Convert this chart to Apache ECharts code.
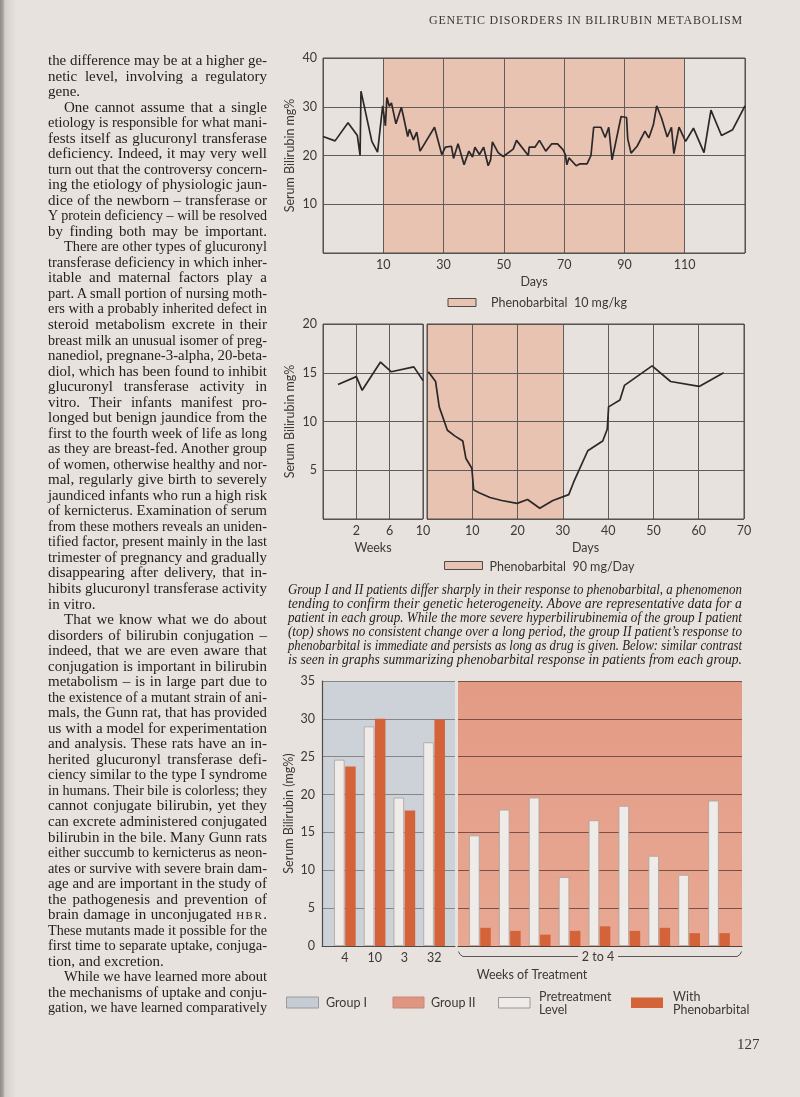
<!DOCTYPE html>
<html><head><meta charset="utf-8">
<script src="https://cdn.jsdelivr.net/npm/echarts@6/dist/echarts.min.js"></script>
<style>
html,body{margin:0;padding:0;background:#e7e2dd;}
#page{position:relative;width:800px;height:1097px;overflow:hidden;background:#e7e2dd;}
#chart{position:absolute;left:0;top:0;width:800px;height:1097px;}
.ln{position:absolute;white-space:nowrap;font-family:"Liberation Serif","DejaVu Serif",serif;color:#24211f;}
</style></head>
<body><div id="page"><div id="chart"></div><div id="txt"></div></div>
<script>
// ---------- DATA ----------
// Top chart (Group I patient), phenobarbital 10 mg/kg
const topDays = [-10,-6,-1.7,1.4,2.3,2.6,6.2,8.1,9.8,10.7,11.2,12,12.7,13.3,14.2,16,16.8,18.1,18.7,20,21.1,22.2,27,29.4,30.6,32.6,33.3,34.8,36.8,38.4,39.6,40.4,41.9,43.3,44.8,45.6,46.2,48.1,49.8,53.1,54.2,58.1,58.4,60.3,61.8,63.9,65.9,67.8,69.6,70.4,70.9,71.6,74,75.3,77.6,78.9,79.8,82.2,83.6,84.8,85.9,88.9,90.7,91.1,92.2,94.2,96.8,98.1,99.6,100.7,102.3,104.2,105.6,106.4,108.1,110.3,112.9,116.4,118.7,122.2,125.9,130];
const topValues = [23.9,23.0,26.7,24.1,20.0,33.2,22.9,20.7,30.2,26.1,31.9,30.1,30.8,31.0,26.5,29.9,27.7,23.9,25.4,23.2,24.8,20.9,25.8,20.2,21.7,21.9,19.4,22.4,18.1,20.9,19.7,21.7,20.2,21.7,17.9,19.1,22.8,20.6,19.8,21.3,23.1,20.0,21.7,21.7,23.1,20.9,22.4,22.4,21.2,20.2,18.1,19.5,17.9,18.3,18.3,20.0,25.8,25.8,23.7,25.8,19.1,28.0,27.8,23.4,20.5,21.9,25.0,23.6,26.3,30.2,27.7,23.8,25.8,20.4,25.8,22.9,25.6,20.6,29.3,24.1,25.3,30.2];
const phenoTop = [10, 110];

// Middle chart (Group II patient), phenobarbital 90 mg/Day
const midWeeks = [-0.2, 2, 2.7, 4.9, 6.2, 8.9, 10];
const midWeekValues = [13.8, 14.6, 13.2, 16.1, 15.1, 15.6, 14.2];
const midDays = [0.3,1.9,2.7,4.5,6.2,7.9,8.6,9.9,10.3,11.5,13.9,16.5,19.9,22.2,24.9,27.8,31.3,32.4,35.5,38.8,39.8,40.1,42.6,43.6,49.7,53.8,60.1,65.5];
const midDayValues = [15.1,14.1,11.5,9.1,8.5,8.0,6.2,5.2,3.0,2.7,2.2,1.9,1.6,2.0,1.1,1.9,2.5,3.8,7.0,8.0,9.2,11.5,12.2,13.7,15.7,14.1,13.6,15.0];
const phenoMid = [0, 30];

// Bottom chart: summary
const groupICats = ['4', '10', '3', '32'];
const groupIPre = [24.6, 29.0, 19.6, 26.9];
const groupIPheno = [23.7, 30.0, 17.9, 29.9];
const groupIICats = ['II-1','II-2','II-3','II-4','II-5','II-6','II-7','II-8','II-9'];
const groupIIPre = [14.6, 18.0, 19.6, 9.1, 16.6, 18.5, 11.9, 9.4, 19.2];
const groupIIPheno = [2.4, 2.0, 1.5, 2.0, 2.6, 2.0, 2.4, 1.7, 1.7];
const groupIILabel = '2 to 4';

// ---------- TEXT ----------
const header = 'GENETIC DISORDERS IN BILIRUBIN METABOLISM';
// flags: i = indented, n = not justified (paragraph end)
const bodyLines = [
 ['','the difference may be at a higher ge-'],
 ['','netic level, involving a regulatory'],
 ['n','gene.'],
 ['i','One cannot assume that a single'],
 ['','etiology is responsible for what mani-'],
 ['','fests itself as glucuronyl transferase'],
 ['','deficiency. Indeed, it may very well'],
 ['','turn out that the controversy concern-'],
 ['','ing the etiology of physiologic jaun-'],
 ['','dice of the newborn – transferase or'],
 ['','Y protein deficiency – will be resolved'],
 ['','by finding both may be important.'],
 ['i','There are other types of glucuronyl'],
 ['','transferase deficiency in which inher-'],
 ['','itable and maternal factors play a'],
 ['','part. A small portion of nursing moth-'],
 ['','ers with a probably inherited defect in'],
 ['','steroid metabolism excrete in their'],
 ['','breast milk an unusual isomer of preg-'],
 ['','nanediol, pregnane-3-alpha, 20-beta-'],
 ['','diol, which has been found to inhibit'],
 ['','glucuronyl transferase activity in'],
 ['','vitro. Their infants manifest pro-'],
 ['','longed but benign jaundice from the'],
 ['','first to the fourth week of life as long'],
 ['','as they are breast-fed. Another group'],
 ['','of women, otherwise healthy and nor-'],
 ['','mal, regularly give birth to severely'],
 ['','jaundiced infants who run a high risk'],
 ['','of kernicterus. Examination of serum'],
 ['','from these mothers reveals an uniden-'],
 ['','tified factor, present mainly in the last'],
 ['','trimester of pregnancy and gradually'],
 ['','disappearing after delivery, that in-'],
 ['','hibits glucuronyl transferase activity'],
 ['n','in vitro.'],
 ['i','That we know what we do about'],
 ['','disorders of bilirubin conjugation –'],
 ['','indeed, that we are even aware that'],
 ['','conjugation is important in bilirubin'],
 ['','metabolism – is in large part due to'],
 ['','the existence of a mutant strain of ani-'],
 ['','mals, the Gunn rat, that has provided'],
 ['','us with a model for experimentation'],
 ['','and analysis. These rats have an in-'],
 ['','herited glucuronyl transferase defi-'],
 ['','ciency similar to the type I syndrome'],
 ['','in humans. Their bile is colorless; they'],
 ['','cannot conjugate bilirubin, yet they'],
 ['','can excrete administered conjugated'],
 ['','bilirubin in the bile. Many Gunn rats'],
 ['','either succumb to kernicterus as neon-'],
 ['','ates or survive with severe brain dam-'],
 ['','age and are important in the study of'],
 ['','the pathogenesis and prevention of'],
 ['','brain damage in unconjugated <span style="font-size:11px;letter-spacing:1.5px">HBR</span>.'],
 ['','These mutants made it possible for the'],
 ['','first time to separate uptake, conjuga-'],
 ['n','tion, and excretion.'],
 ['i','While we have learned more about'],
 ['','the mechanisms of uptake and conju-'],
 ['','gation, we have learned comparatively']
];
const captionLines = [
 ['','Group I and II patients differ sharply in their response to phenobarbital, a phenomenon'],
 ['','tending to confirm their genetic heterogeneity. Above are representative data for a'],
 ['','patient in each group. While the more severe hyperbilirubinemia of the group I patient'],
 ['',"(top) shows no consistent change over a long period, the group II patient’s response to"],
 ['','phenobarbital is immediate and persists as long as drug is given. Below: similar contrast'],
 ['n','is seen in graphs summarizing phenobarbital response in patients from each group.']
];
const pageNumber = '127';

// ---------- HTML TEXT ----------
const txt = document.getElementById('txt');
function placeLine(html, x, y, w, size, lh, justify, extraStyle) {
  const d = document.createElement('div');
  d.className = 'ln';
  d.style.left = x + 'px'; d.style.top = y + 'px';
  d.style.fontSize = size + 'px'; d.style.lineHeight = lh + 'px';
  if (extraStyle) Object.assign(d.style, extraStyle);
  d.innerHTML = html;
  txt.appendChild(d);
  const nat = d.getBoundingClientRect().width;
  if (nat > w) {
    d.style.transformOrigin = '0 0';
    d.style.transform = 'scaleX(' + (w / nat) + ')';
  } else if (justify) {
    const sp = (d.textContent.match(/ /g) || []).length;
    if (sp) d.style.wordSpacing = ((w - nat) / sp) + 'px';
  }
}
const BODY_X = 48, BODY_W = 219, BODY_Y = 53, BODY_LH = 15.53, INDENT = 16;
bodyLines.forEach((l, i) => {
  const ind = l[0].includes('i') ? INDENT : 0;
  placeLine(l[1], BODY_X + ind, BODY_Y + i * BODY_LH, BODY_W - ind, 15, BODY_LH, !l[0].includes('n'));
});
captionLines.forEach((l, i) => {
  placeLine(l[1], 288, 583 + i * 14, 454, 14, 14, !l[0].includes('n'), {fontStyle:'italic'});
});
(function(){
  const d = document.createElement('div');
  d.className = 'ln';
  d.style.left = '429px'; d.style.top = '13px'; d.style.fontSize = '12px'; d.style.lineHeight = '14px';
  d.style.letterSpacing = '0.8px'; d.style.color = '#3a3633';
  d.textContent = header; txt.appendChild(d);
  const nat = d.getBoundingClientRect().width;
  d.style.transformOrigin = '0 0'; d.style.transform = 'scaleX(' + (314 / nat) + ')';
})();
placeLine(pageNumber, 737, 1036, 30, 15, 16, false, {color:'#3a3633'});

// ---------- CHART ----------
const FONT = 'Lato, "Open Sans", sans-serif';
const PINK = '#e8c3b2';
const LINE = '#2a2828';
const GRIDC = '#5f5c5a';
const lbl = {color:'#3b3836', fontFamily:FONT, fontSize:12.5};
const nameStyle = {color:'#3b3836', fontFamily:FONT, fontSize:12.5};
const hideEdge = (lo, hi) => v => (v <= lo || v >= hi) ? '' : String(v);

const chart = echarts.init(document.getElementById('chart'), null, {renderer:'canvas'});

const option = {
  animation: false,
  backgroundColor: 'transparent',
  grid: [
    {left:323, top:58, width:422, height:195, show:true, z:4, backgroundColor:'transparent', borderColor:'#4e4b49', borderWidth:1},
    {left:323, top:324, width:100, height:195, show:true, z:4, backgroundColor:'transparent', borderColor:'#4e4b49', borderWidth:1},
    {left:427, top:324, width:317, height:195, show:true, z:4, backgroundColor:'transparent', borderColor:'#4e4b49', borderWidth:1},
    {left:322, top:681, width:133, height:265, show:true, z:0, backgroundColor:'#cdd2d8', borderWidth:0},
    {left:458, top:681, width:284, height:265, show:true, z:0, borderWidth:0,
      backgroundColor:{type:'linear', x:0, y:0, x2:0, y2:1, colorStops:[{offset:0, color:'#e39b85'},{offset:1, color:'#e8a893'}]}},
    {left:330, top:681, width:119, height:265},
    {left:465, top:681, width:269, height:265}
  ],
  xAxis: [
    {gridIndex:0, type:'value', min:-10, max:130, interval:20, z:3,
      axisLine:{show:false}, axisTick:{show:false},
      axisLabel:{...lbl, margin:5, formatter:hideEdge(-10,130)},
      splitLine:{show:true, lineStyle:{color:GRIDC, width:1}},
      name:'Days', nameLocation:'middle', nameGap:22, nameTextStyle:nameStyle},
    {gridIndex:1, type:'value', min:-2, max:10, interval:4, z:3,
      axisLine:{show:false}, axisTick:{show:false},
      axisLabel:{...lbl, margin:5, formatter: v => v <= -2 ? '' : String(v)},
      splitLine:{show:true, lineStyle:{color:GRIDC, width:1}},
      name:'Weeks', nameLocation:'middle', nameGap:22, nameTextStyle:nameStyle},
    {gridIndex:2, type:'value', min:0, max:70, interval:10, z:3,
      axisLine:{show:false}, axisTick:{show:false},
      axisLabel:{...lbl, margin:5, formatter: v => v <= 0 ? '' : String(v)},
      splitLine:{show:true, lineStyle:{color:GRIDC, width:1}},
      name:'Days', nameLocation:'middle', nameGap:22, nameTextStyle:nameStyle},
    {gridIndex:3, type:'value', min:0, max:1, z:1,
      axisLine:{show:true, lineStyle:{color:'#4e4b49', width:1.2}}, axisTick:{show:false}, axisLabel:{show:false}, splitLine:{show:false}},
    {gridIndex:4, type:'value', min:0, max:1, z:1,
      axisLine:{show:true, lineStyle:{color:'#5a4036', width:1.2}}, axisTick:{show:false}, axisLabel:{show:false}, splitLine:{show:false}},
    {gridIndex:5, type:'category', data:groupICats, z:1,
      axisLine:{show:false}, axisTick:{show:false}, axisLabel:{...lbl, margin:5}},
    {gridIndex:6, type:'category', data:groupIICats, z:1,
      axisLine:{show:false}, axisTick:{show:false}, axisLabel:{show:false}}
  ],
  yAxis: [
    {gridIndex:0, type:'value', min:0, max:40, interval:10, z:3,
      axisLine:{show:false}, axisTick:{show:false},
      axisLabel:{...lbl, margin:6, formatter: v => v === 0 ? '' : String(v)},
      splitLine:{show:true, lineStyle:{color:GRIDC, width:1}},
      name:'Serum Bilirubin mg%', nameLocation:'middle', nameGap:27, nameMoveOverlap:false, nameTextStyle:nameStyle},
    {gridIndex:1, type:'value', min:0, max:20, interval:5, z:3,
      axisLine:{show:false}, axisTick:{show:false},
      axisLabel:{...lbl, margin:6, formatter: v => v === 0 ? '' : String(v)},
      splitLine:{show:true, lineStyle:{color:GRIDC, width:1}},
      name:'Serum Bilirubin mg%', nameLocation:'middle', nameGap:27, nameMoveOverlap:false, nameTextStyle:nameStyle},
    {gridIndex:2, type:'value', min:0, max:20, interval:5, z:3,
      axisLine:{show:false}, axisTick:{show:false}, axisLabel:{show:false},
      splitLine:{show:true, lineStyle:{color:GRIDC, width:1}}},
    {gridIndex:3, type:'value', min:0, max:35, interval:5, z:1,
      axisLine:{show:true, lineStyle:{color:'#4e4b49', width:1.2}}, axisTick:{show:false},
      axisLabel:{...lbl, margin:7},
      splitLine:{show:true, lineStyle:{color:'#85878b', width:1}},
      name:'Serum Bilirubin (mg%)', nameLocation:'middle', nameGap:27, nameMoveOverlap:false, nameTextStyle:nameStyle},
    {gridIndex:4, type:'value', min:0, max:35, interval:5, z:1,
      axisLine:{show:false}, axisTick:{show:false}, axisLabel:{show:false},
      splitLine:{show:true, lineStyle:{color:'#7a5046', width:1}}},
    {gridIndex:5, type:'value', min:0, max:35, show:false},
    {gridIndex:6, type:'value', min:0, max:35, show:false}
  ],
  series: [
    {type:'line', xAxisIndex:0, yAxisIndex:0, data:[], z:1, silent:true,
      markArea:{silent:true, itemStyle:{color:PINK}, data:[[{xAxis:phenoTop[0]},{xAxis:phenoTop[1]}]]}},
    {type:'line', xAxisIndex:0, yAxisIndex:0, z:5, showSymbol:false, symbol:'none',
      lineStyle:{color:LINE, width:1.7}, data: topDays.map((d,i)=>[d, topValues[i]])},
    {type:'line', xAxisIndex:2, yAxisIndex:2, data:[], z:1, silent:true,
      markArea:{silent:true, itemStyle:{color:PINK}, data:[[{xAxis:phenoMid[0]},{xAxis:phenoMid[1]}]]}},
    {type:'line', xAxisIndex:1, yAxisIndex:1, z:5, showSymbol:false, symbol:'none',
      lineStyle:{color:LINE, width:1.7}, data: midWeeks.map((d,i)=>[d, midWeekValues[i]])},
    {type:'line', xAxisIndex:2, yAxisIndex:2, z:5, showSymbol:false, symbol:'none',
      lineStyle:{color:LINE, width:1.7}, data: midDays.map((d,i)=>[d, midDayValues[i]])},
    {type:'bar', name:'Pretreatment Level', xAxisIndex:5, yAxisIndex:5, z:3, barWidth:10.5, barGap:'6%',
      itemStyle:{color:'#efebe8', borderColor:'#a8a29e', borderWidth:0.8}, data:groupIPre},
    {type:'bar', name:'With Phenobarbital', xAxisIndex:5, yAxisIndex:5, z:3, barWidth:10.5, barGap:'6%',
      itemStyle:{color:'#d5633a'}, data:groupIPheno},
    {type:'bar', name:'Pretreatment Level', xAxisIndex:6, yAxisIndex:6, z:3, barWidth:10.5, barGap:'6%',
      itemStyle:{color:'#efebe8', borderColor:'#a8a29e', borderWidth:0.8}, data:groupIIPre},
    {type:'bar', name:'With Phenobarbital', xAxisIndex:6, yAxisIndex:6, z:3, barWidth:10.5, barGap:'6%',
      itemStyle:{color:'#d5633a'}, data:groupIIPheno}
  ],
  graphic: [
    // book gutter
    {type:'rect', left:0, top:0, shape:{width:16, height:1097}, silent:true,
      style:{fill:{type:'linear', x:0, y:0, x2:1, y2:0, colorStops:[
        {offset:0, color:'#8e8a86'},{offset:0.2, color:'#a9a5a1'},{offset:0.3, color:'#d3cec9'},{offset:0.6, color:'#dcd7d2'},{offset:1, color:'#e7e2dd'}]}}},
    // top legend
    {type:'rect', shape:{x:448, y:298.5, width:28, height:8}, style:{fill:PINK, stroke:'#4e4b49', lineWidth:1}},
    {type:'text', x:491, y:302.7, style:{text:'Phenobarbital  10 mg/kg', font:'12.5px '+FONT, fill:'#3b3836', verticalAlign:'middle'}},
    // middle legend
    {type:'rect', shape:{x:444.5, y:561.5, width:38, height:8}, style:{fill:PINK, stroke:'#4e4b49', lineWidth:1}},
    {type:'text', x:489.5, y:566.5, style:{text:'Phenobarbital  90 mg/Day', font:'12.5px '+FONT, fill:'#3b3836', verticalAlign:'middle'}},
    // bottom: brace and axis title
    {type:'polyline', shape:{points:[[458.5,951.5],[460,954.5],[463,956.5],[578,956.5]]}, style:{stroke:'#5a5654', lineWidth:1, fill:null}},
    {type:'polyline', shape:{points:[[618,956.5],[737,956.5],[740,954.5],[741.5,951.5]]}, style:{stroke:'#5a5654', lineWidth:1, fill:null}},
    {type:'text', x:598, y:957, style:{text:groupIILabel, font:'12.5px '+FONT, fill:'#3b3836', align:'center', verticalAlign:'middle'}},
    {type:'text', x:532, y:974.5, style:{text:'Weeks of Treatment', font:'12.5px '+FONT, fill:'#3b3836', align:'center', verticalAlign:'middle'}},
    // bottom legend
    {type:'rect', shape:{x:286.5, y:997, width:32, height:11}, style:{fill:'#c6ccd4', stroke:'#9a9a9c', lineWidth:1}},
    {type:'text', x:326, y:1003, style:{text:'Group I', font:'12.5px '+FONT, fill:'#3b3836', verticalAlign:'middle'}},
    {type:'rect', shape:{x:393, y:997, width:31, height:11}, style:{fill:'#df9580', stroke:'#c9877a', lineWidth:1}},
    {type:'text', x:431, y:1003, style:{text:'Group II', font:'12.5px '+FONT, fill:'#3b3836', verticalAlign:'middle'}},
    {type:'rect', shape:{x:498.5, y:997.5, width:31.5, height:10.5}, style:{fill:'#efebe8', stroke:'#9c9794', lineWidth:1}},
    {type:'text', x:539, y:997, style:{text:'Pretreatment', font:'12.5px '+FONT, fill:'#3b3836', verticalAlign:'middle'}},
    {type:'text', x:539, y:1009.5, style:{text:'Level', font:'12.5px '+FONT, fill:'#3b3836', verticalAlign:'middle'}},
    {type:'rect', shape:{x:631, y:997.5, width:32, height:10.5}, style:{fill:'#d5633a'}},
    {type:'text', x:673, y:997, style:{text:'With', font:'12.5px '+FONT, fill:'#3b3836', verticalAlign:'middle'}},
    {type:'text', x:673, y:1010, style:{text:'Phenobarbital', font:'12.5px '+FONT, fill:'#3b3836', verticalAlign:'middle'}}
  ]
};
chart.setOption(option);
</script>
</body></html>
